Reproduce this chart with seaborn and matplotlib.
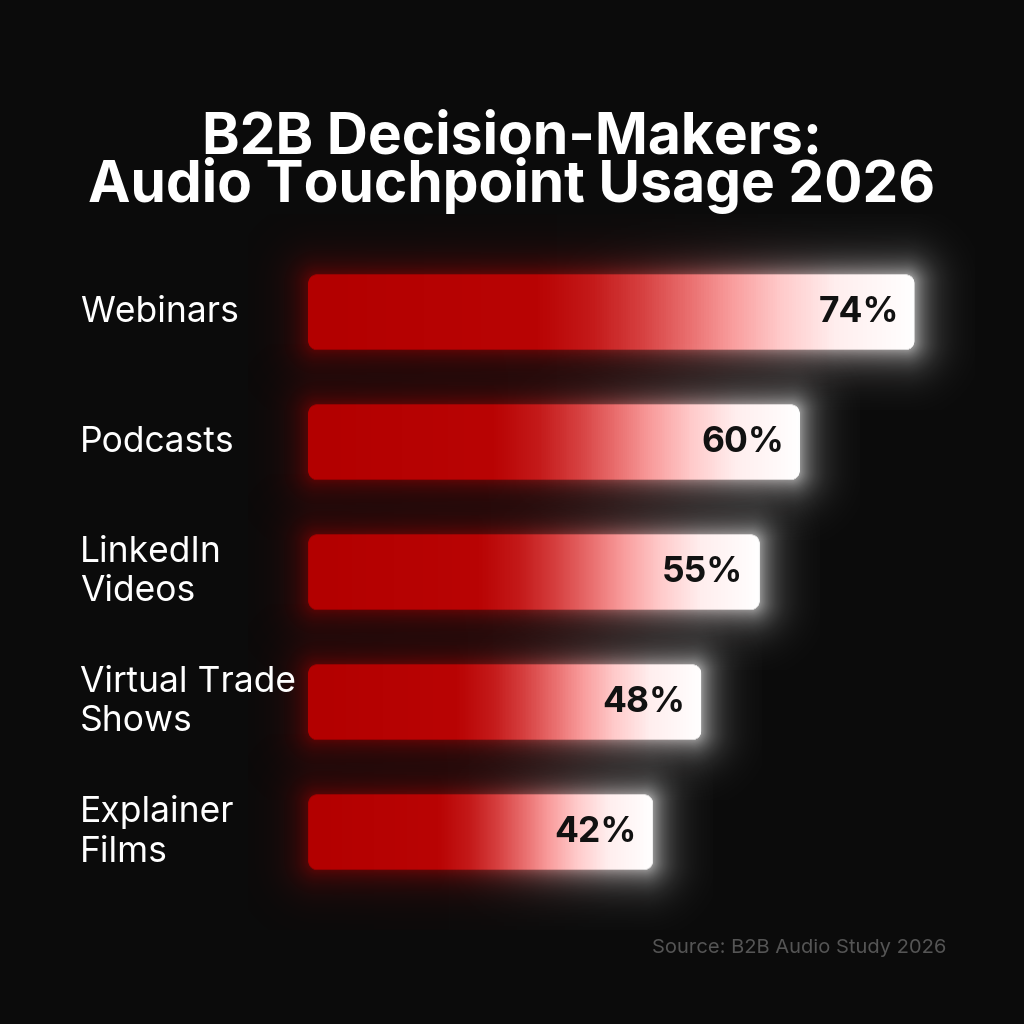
import numpy as np
import matplotlib
matplotlib.use("Agg")
import matplotlib.pyplot as plt
import matplotlib.transforms as mtransforms
from matplotlib.colors import LinearSegmentedColormap
import seaborn as sns
import pandas as pd

# ---- data ----
categories = ["Webinars", "Podcasts", "LinkedIn\nVideos", "Virtual Trade\nShows", "Explainer\nFilms"]
values = [74, 60, 55, 48, 42]
value_labels = ["74%", "60%", "55%", "48%", "42%"]
title = "B2B Decision-Makers:\nAudio Touchpoint Usage 2026"
source = "Source: B2B Audio Study 2026"

BG = "#0b0b0b"
sns.set_theme(style="dark")
plt.rcParams["font.family"] = ["Inter", "DejaVu Sans"]

fig = plt.figure(figsize=(10.24, 10.24), dpi=100, facecolor=BG)
ax_l, ax_b, ax_w, ax_h = 308 / 1024, 127 / 1024, 656 / 1024, 650 / 1024
ax = fig.add_axes([ax_l, ax_b, ax_w, ax_h])
ax.set_facecolor(BG)

df = pd.DataFrame({"category": categories, "value": values})
sns.barplot(data=df, x="value", y="category", orient="h", width=0.58,
            color="#b00000", ax=ax)
XMAX = 80
ax.set_xlim(0, XMAX)
ax.set_ylim(4.5, -0.5)
ax.axis("off")

sx = ax_w * 1024 / XMAX   # px per x unit
sy = ax_h * 1024 / 5      # px per y unit

cmap = LinearSegmentedColormap.from_list("bar", [
    (0.00, "#b30000"), (0.38, "#b90404"), (0.47, "#c41a1a"),
    (0.55, "#d64040"), (0.63, "#ea7070"), (0.70, "#f99d9d"),
    (0.78, "#ffcaca"), (0.87, "#ffeeee"), (1.00, "#ffffff")])

R = 9.0
PAD = 60
for patch, lab in zip(ax.patches, value_labels):
    x0, y0, w, h = patch.get_x(), patch.get_y(), patch.get_width(), patch.get_height()
    patch.set_visible(False)
    wpx, hpx = w * sx, h * sy
    nx, ny = int(round(wpx + 2 * PAD)), int(round(hpx + 2 * PAD))
    X = np.arange(nx) + 0.5 - PAD
    Y = np.arange(ny) + 0.5 - PAD
    qx = np.abs(X - wpx / 2) - (wpx / 2 - R)
    qy = np.abs(Y - hpx / 2) - (hpx / 2 - R)
    QX, QY = np.meshgrid(qx, qy)
    d = (np.hypot(np.maximum(QX, 0), np.maximum(QY, 0))
         + np.minimum(np.maximum(QX, QY), 0) - R)
    t = np.clip(X / wpx, 0, 1)
    cols = cmap(t)[:, :3]
    rgba = np.zeros((ny, nx, 4))
    rgba[..., :3] = cols[None, :, :]
    inside = np.clip(0.5 - d, 0, 1)
    glow_strength = 0.42 + 0.13 * t[None, :]
    glow = glow_strength * np.exp(-np.maximum(d, 0) / 16.0)
    rgba[..., 3] = np.maximum(inside, glow)
    ext = (x0 - PAD / sx, x0 + w + PAD / sx, y0 + h + PAD / sy, y0 - PAD / sy)
    im = ax.imshow(rgba, extent=ext, origin="upper", aspect="auto",
                   interpolation="bilinear", zorder=3)
    im.set_clip_on(False)
    ax.text(x0 + w - 16 / sx, y0 + h / 2, lab, ha="right", va="center",
            fontsize=25.5, fontweight="bold", color="#111111", zorder=5)

ax.set_xlim(0, XMAX)
ax.set_ylim(4.5, -0.5)

trans = mtransforms.blended_transform_factory(fig.transFigure, ax.transData)
for i, cat in enumerate(categories):
    fig.text(80 / 1024, i, cat, transform=trans, ha="left", va="center",
             fontsize=25.5, color="white", linespacing=1.24)

fig.text(0.5, 1 - 163 / 1024, title, ha="center", va="center", fontsize=41,
         fontweight="bold", color="white", linespacing=0.8)
fig.text(946 / 1024, 1 - 948 / 1024, source, ha="right", va="center",
         fontsize=14.5, color="#555555")

fig.savefig("out.png", dpi=100, facecolor=BG)
